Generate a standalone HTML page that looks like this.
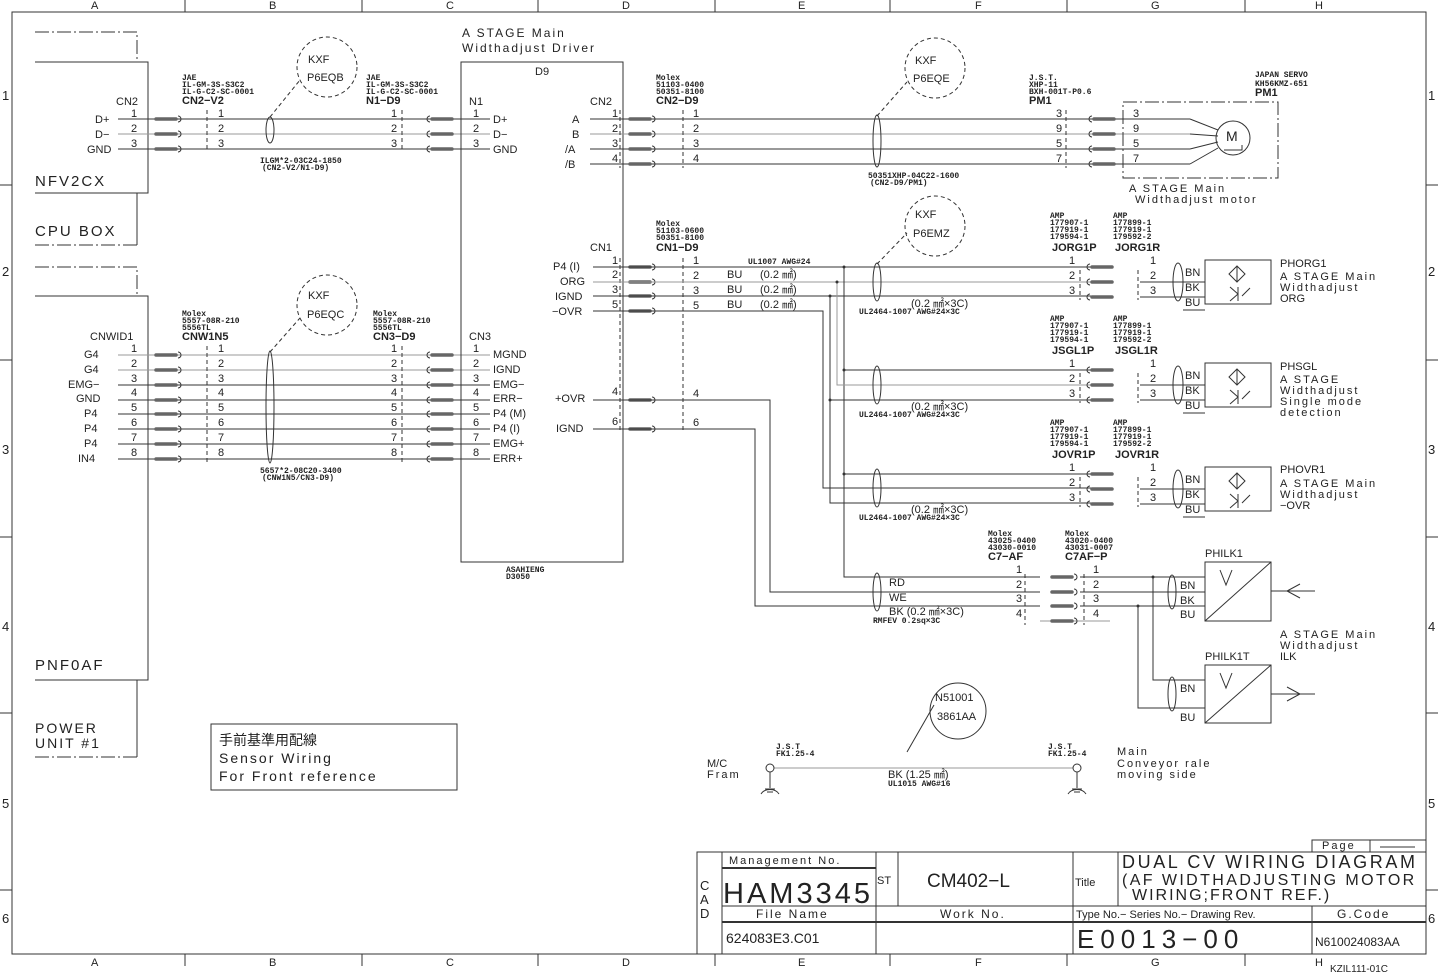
<!DOCTYPE html>
<html><head><meta charset="utf-8"><style>
html,body{margin:0;padding:0;background:#fff}
svg{display:block}
text{font-family:"Liberation Sans","Noto Sans CJK JP",sans-serif;fill:#222}
.t{font-size:11px}
.s{font-size:8px;font-weight:bold;font-family:"Liberation Mono",monospace}
.m{font-size:11px;font-weight:bold}
.w{letter-spacing:2px}
.ln{stroke:#333;stroke-width:1;fill:none}
.lg{stroke:#999;stroke-width:1;fill:none}
.dd{stroke:#333;stroke-width:1;stroke-dasharray:4,3;fill:none}
.dc{stroke:#333;stroke-width:1;stroke-dasharray:14,3,2,3;fill:none}
</style></head><body>
<svg width="1438" height="974" viewBox="0 0 1438 974" xmlns="http://www.w3.org/2000/svg">
<defs>
<g id="pr"><line x1="2" y1="0" x2="22" y2="0" stroke="#666" stroke-width="3.5" stroke-linecap="round"/><path d="M24,-3 A3,3 0 0 1 24,3" class="ln"/></g>
<g id="pl"><line x1="4" y1="0" x2="24" y2="0" stroke="#666" stroke-width="3.5" stroke-linecap="round"/><path d="M2,-3 A3,3 0 0 0 2,3" class="ln"/></g>
<g id="gnd"><circle cx="0" cy="0" r="4" class="ln"/><line x1="0" y1="4" x2="0" y2="20" class="ln"/><path d="M-9,26 A10,8 0 0 1 9,26" class="ln"/><line x1="-5" y1="21" x2="5" y2="21" class="ln"/><line x1="-3" y1="24" x2="3" y2="24" class="ln"/></g>
</defs>
<!-- frame -->
<rect x="12" y="12" width="1414" height="942" class="ln"/>
<g class="ln">
<line x1="185" y1="0" x2="185" y2="12"/><line x1="362" y1="0" x2="362" y2="12"/><line x1="538" y1="0" x2="538" y2="12"/><line x1="715" y1="0" x2="715" y2="12"/><line x1="890" y1="0" x2="890" y2="12"/><line x1="1067" y1="0" x2="1067" y2="12"/><line x1="1245" y1="0" x2="1245" y2="12"/>
<line x1="185" y1="954" x2="185" y2="966"/><line x1="362" y1="954" x2="362" y2="966"/><line x1="538" y1="954" x2="538" y2="966"/><line x1="715" y1="954" x2="715" y2="966"/><line x1="890" y1="954" x2="890" y2="966"/><line x1="1067" y1="954" x2="1067" y2="966"/><line x1="1245" y1="954" x2="1245" y2="966"/>
<line x1="0" y1="185" x2="12" y2="185"/><line x1="0" y1="360" x2="12" y2="360"/><line x1="0" y1="537" x2="12" y2="537"/><line x1="0" y1="713" x2="12" y2="713"/><line x1="0" y1="890" x2="12" y2="890"/>
<line x1="1426" y1="185" x2="1438" y2="185"/><line x1="1426" y1="360" x2="1438" y2="360"/><line x1="1426" y1="537" x2="1438" y2="537"/><line x1="1426" y1="713" x2="1438" y2="713"/><line x1="1426" y1="890" x2="1438" y2="890"/>
</g>
<g class="t">
<text x="91" y="9">A</text><text x="269" y="9">B</text><text x="446" y="9">C</text><text x="622" y="9">D</text><text x="798" y="9">E</text><text x="975" y="9">F</text><text x="1151" y="9">G</text><text x="1315" y="9">H</text>
<text x="91" y="966">A</text><text x="269" y="966">B</text><text x="446" y="966">C</text><text x="622" y="966">D</text><text x="798" y="966">E</text><text x="975" y="966">F</text><text x="1151" y="966">G</text><text x="1315" y="966">H</text>
<text x="2" y="100" font-size="13">1</text><text x="2" y="276" font-size="13">2</text><text x="2" y="454" font-size="13">3</text><text x="2" y="631" font-size="13">4</text><text x="2" y="808" font-size="13">5</text><text x="2" y="923" font-size="13">6</text>
<text x="1428" y="100" font-size="13">1</text><text x="1428" y="276" font-size="13">2</text><text x="1428" y="454" font-size="13">3</text><text x="1428" y="631" font-size="13">4</text><text x="1428" y="808" font-size="13">5</text><text x="1428" y="923" font-size="13">6</text>
<text x="1330" y="972" font-size="10">KZIL111-01C</text>
</g>

<!-- CPU BOX -->
<path d="M35,32 H137 V62" class="dc"/>
<path d="M35,62 H148 V193 H35" class="ln"/>
<path d="M137,193 V245" class="ln"/><path d="M35,245 H137" class="dc"/>
<text x="35" y="186" font-size="15" class="w">NFV2CX</text>
<text x="35" y="236" font-size="15" class="w">CPU BOX</text>
<!-- POWER UNIT -->
<path d="M35,267 H137 V296" class="dc"/>
<path d="M35,296 H148 V680 H35" class="ln"/>
<path d="M137,680 V757" class="ln"/><path d="M35,757 H137" class="dc"/>
<text x="35" y="670" font-size="15" class="w">PNF0AF</text>
<text x="35" y="733" font-size="14" class="w">POWER</text>
<text x="35" y="748" font-size="14" class="w">UNIT #1</text>

<!-- Top cable CN2-V2 -->
<g class="t">
<text x="116" y="105">CN2</text>
<text x="95" y="123">D+</text><text x="95" y="138">D−</text><text x="87" y="153">GND</text>
<text x="131" y="117">1</text><text x="131" y="132">2</text><text x="131" y="147">3</text>
<text x="218" y="117">1</text><text x="218" y="132">2</text><text x="218" y="147">3</text>
<text x="391" y="117">1</text><text x="391" y="132">2</text><text x="391" y="147">3</text>
<text x="473" y="117">1</text><text x="473" y="132">2</text><text x="473" y="147">3</text>
<text x="469" y="105">N1</text>
<text x="493" y="123">D+</text><text x="493" y="138">D−</text><text x="493" y="153">GND</text>
</g>
<line x1="118" y1="119" x2="490" y2="119" class="ln"/>
<line x1="118" y1="134" x2="490" y2="134" class="lg"/>
<line x1="118" y1="149" x2="490" y2="149" class="ln"/>
<use href="#pr" x="154" y="119"/><use href="#pr" x="154" y="134"/><use href="#pr" x="154" y="149"/>
<use href="#pl" x="428" y="119"/><use href="#pl" x="428" y="134"/><use href="#pl" x="428" y="149"/>
<line x1="207" y1="110" x2="207" y2="152" class="dd"/><line x1="402" y1="110" x2="402" y2="152" class="dd"/>
<ellipse cx="270" cy="130" rx="4" ry="13" class="ln"/>
<text x="182" y="80" class="s">JAE</text><text x="182" y="87" class="s" font-weight="normal">IL-GM-3S-S3C2</text><text x="182" y="94" class="s">IL-G-C2-SC-0001</text><text x="182" y="104" class="m">CN2−V2</text>
<text x="366" y="80" class="s">JAE</text><text x="366" y="87" class="s" font-weight="normal">IL-GM-3S-S3C2</text><text x="366" y="94" class="s">IL-G-C2-SC-0001</text><text x="366" y="104" class="m">N1−D9</text>
<text x="260" y="163" class="s">ILGM*2-03C24-1850</text><text x="262" y="170" class="s" font-weight="normal">(CN2-V2/N1-D9)</text>
<circle cx="327" cy="67" r="30" class="dd"/><text x="308" y="63" class="t">KXF</text><text x="307" y="81" class="t">P6EQB</text>
<line x1="270" y1="117" x2="300" y2="80" class="dd"/>

<!-- Lower cable CNWID1 -->
<g class="t">
<text x="90" y="340">CNWID1</text>
<text x="84" y="358">G4</text><text x="84" y="373">G4</text><text x="68" y="388">EMG−</text><text x="76" y="402">GND</text><text x="84" y="417">P4</text><text x="84" y="432">P4</text><text x="84" y="447">P4</text><text x="78" y="462">IN4</text>
<text x="131" y="352">1</text><text x="131" y="367">2</text><text x="131" y="382">3</text><text x="131" y="396">4</text><text x="131" y="411">5</text><text x="131" y="426">6</text><text x="131" y="441">7</text><text x="131" y="456">8</text>
<text x="218" y="352">1</text><text x="218" y="367">2</text><text x="218" y="382">3</text><text x="218" y="396">4</text><text x="218" y="411">5</text><text x="218" y="426">6</text><text x="218" y="441">7</text><text x="218" y="456">8</text>
<text x="391" y="352">1</text><text x="391" y="367">2</text><text x="391" y="382">3</text><text x="391" y="396">4</text><text x="391" y="411">5</text><text x="391" y="426">6</text><text x="391" y="441">7</text><text x="391" y="456">8</text>
<text x="473" y="352">1</text><text x="473" y="367">2</text><text x="473" y="382">3</text><text x="473" y="396">4</text><text x="473" y="411">5</text><text x="473" y="426">6</text><text x="473" y="441">7</text><text x="473" y="456">8</text>
<text x="469" y="340">CN3</text>
<text x="493" y="358">MGND</text><text x="493" y="373">IGND</text><text x="493" y="388">EMG−</text><text x="493" y="402">ERR−</text><text x="493" y="417">P4 (M)</text><text x="493" y="432">P4 (I)</text><text x="493" y="447">EMG+</text><text x="493" y="462">ERR+</text>
</g>
<g class="lg">
<line x1="118" y1="355" x2="490" y2="355"/><line x1="118" y1="370" x2="490" y2="370"/>
</g>
<g class="ln">
<line x1="118" y1="385" x2="490" y2="385"/><line x1="118" y1="400" x2="490" y2="400"/><line x1="118" y1="414" x2="490" y2="414"/><line x1="118" y1="429" x2="490" y2="429"/><line x1="118" y1="444" x2="490" y2="444"/><line x1="118" y1="459" x2="490" y2="459"/>
</g>
<use href="#pr" x="154" y="355"/><use href="#pr" x="154" y="370"/><use href="#pr" x="154" y="385"/><use href="#pr" x="154" y="400"/><use href="#pr" x="154" y="414"/><use href="#pr" x="154" y="429"/><use href="#pr" x="154" y="444"/><use href="#pr" x="154" y="459"/>
<use href="#pl" x="428" y="355"/><use href="#pl" x="428" y="370"/><use href="#pl" x="428" y="385"/><use href="#pl" x="428" y="400"/><use href="#pl" x="428" y="414"/><use href="#pl" x="428" y="429"/><use href="#pl" x="428" y="444"/><use href="#pl" x="428" y="459"/>
<line x1="207" y1="346" x2="207" y2="462" class="dd"/><line x1="402" y1="346" x2="402" y2="462" class="dd"/>
<ellipse cx="270" cy="407" rx="4" ry="56" class="ln"/>
<text x="182" y="316" class="s">Molex</text><text x="182" y="323" class="s" font-weight="normal">5557-08R-210</text><text x="182" y="330" class="s">5556TL</text><text x="182" y="340" class="m">CNW1N5</text>
<text x="373" y="316" class="s">Molex</text><text x="373" y="323" class="s" font-weight="normal">5557-08R-210</text><text x="373" y="330" class="s">5556TL</text><text x="373" y="340" class="m">CN3−D9</text>
<text x="260" y="473" class="s">5657*2-08C20-3400</text><text x="262" y="480" class="s" font-weight="normal">(CNW1N5/CN3-D9)</text>
<circle cx="327" cy="305" r="30" class="dd"/><text x="308" y="299" class="t">KXF</text><text x="307" y="318" class="t">P6EQC</text>
<line x1="270" y1="352" x2="300" y2="318" class="dd"/>

<!-- D9 box -->
<rect x="461" y="62" width="162" height="500" class="ln"/>
<text x="462" y="37" font-size="12" class="w">A STAGE Main</text>
<text x="462" y="52" font-size="12" class="w">Widthadjust Driver</text>
<text x="535" y="75" class="t">D9</text>
<text x="506" y="572" class="s" font-weight="normal">ASAHIENG</text><text x="506" y="579" class="s" font-weight="normal">D3050</text>

<!-- D9 CN2 to motor -->
<g class="t">
<text x="590" y="105">CN2</text>
<text x="572" y="123">A</text><text x="572" y="138">B</text><text x="565" y="153">/A</text><text x="565" y="168">/B</text>
<text x="612" y="117">1</text><text x="612" y="132">2</text><text x="612" y="147">3</text><text x="612" y="162">4</text>
<text x="693" y="117">1</text><text x="693" y="132">2</text><text x="693" y="147">3</text><text x="693" y="162">4</text>
<text x="1056" y="117">3</text><text x="1056" y="132">9</text><text x="1056" y="147">5</text><text x="1056" y="162">7</text>
<text x="1133" y="117">3</text><text x="1133" y="132">9</text><text x="1133" y="147">5</text><text x="1133" y="162">7</text>
</g>
<line x1="590" y1="119" x2="1190" y2="119" class="ln"/>
<line x1="590" y1="134" x2="1190" y2="134" class="lg"/>
<line x1="590" y1="149" x2="1190" y2="149" class="ln"/>
<line x1="590" y1="164" x2="1190" y2="164" class="ln"/>
<use href="#pr" x="628" y="119"/><use href="#pr" x="628" y="134"/><use href="#pr" x="628" y="149"/><use href="#pr" x="628" y="164"/>
<use href="#pl" x="1090" y="119"/><use href="#pl" x="1090" y="134"/><use href="#pl" x="1090" y="149"/><use href="#pl" x="1090" y="164"/>
<line x1="620" y1="110" x2="620" y2="168" class="dd"/><line x1="683" y1="110" x2="683" y2="168" class="dd"/><line x1="1066" y1="110" x2="1066" y2="168" class="dd"/>
<ellipse cx="877" cy="141" rx="4" ry="26" class="ln"/>
<circle cx="935" cy="68" r="30" class="dd"/><text x="915" y="64" class="t">KXF</text><text x="913" y="82" class="t">P6EQE</text>
<line x1="877" y1="116" x2="907" y2="82" class="dd"/>
<text x="656" y="80" class="s">Molex</text><text x="656" y="87" class="s" font-weight="normal">51103-0400</text><text x="656" y="94" class="s">50351-8100</text><text x="656" y="104" class="m">CN2−D9</text>
<text x="1029" y="80" class="s" font-weight="normal">J.S.T.</text><text x="1029" y="87" class="s" font-weight="normal">XHP-11</text><text x="1029" y="94" class="s">BXH-001T-P0.6</text><text x="1029" y="104" class="m">PM1</text>
<text x="868" y="178" class="s">50351XHP-04C22-1600</text><text x="870" y="185" class="s" font-weight="normal">(CN2-D9/PM1)</text>
<rect x="1123" y="102" width="155" height="76" class="dc"/>
<path d="M1190,119 L1218,130 M1190,134 L1218,136 M1190,149 L1218,142 M1190,164 L1218,148" class="ln"/>
<circle cx="1233" cy="138" r="17" class="ln"/><text x="1226" y="141" font-size="14">M</text><path d="M1224,150 H1242 V145" class="ln"/>
<text x="1255" y="77" class="s" font-weight="normal">JAPAN SERVO</text><text x="1255" y="86" class="s" font-weight="normal">KH56KMZ-651</text><text x="1255" y="96" class="m">PM1</text>
<text x="1129" y="192" font-size="11" class="w">A STAGE Main</text>
<text x="1135" y="203" font-size="11" class="w">Widthadjust motor</text>

<!-- CN1 -->
<g class="t">
<text x="590" y="251">CN1</text>
<text x="553" y="270">P4 (I)</text><text x="560" y="285">ORG</text><text x="555" y="300">IGND</text><text x="552" y="315">−OVR</text>
<text x="555" y="402">+OVR</text><text x="556" y="432">IGND</text>
<text x="612" y="264">1</text><text x="612" y="278">2</text><text x="612" y="293">3</text><text x="612" y="308">5</text><text x="612" y="395">4</text><text x="612" y="425">6</text>
<text x="693" y="264">1</text><text x="693" y="279">2</text><text x="693" y="294">3</text><text x="693" y="309">5</text><text x="693" y="397">4</text><text x="693" y="426">6</text>
<text x="727" y="278">BU</text><text x="727" y="293">BU</text><text x="727" y="308">BU</text>
<text x="760" y="278">(0.2 ㎟)</text><text x="760" y="293">(0.2 ㎟)</text><text x="760" y="308">(0.2 ㎟)</text>
</g>
<text x="748" y="264" class="s">UL1007 AWG#24</text>
<text x="656" y="226" class="s">Molex</text><text x="656" y="233" class="s" font-weight="normal">51103-0600</text><text x="656" y="240" class="s">50351-8100</text><text x="656" y="251" class="m">CN1−D9</text>
<line x1="620" y1="258" x2="620" y2="432" class="dd"/><line x1="683" y1="258" x2="683" y2="432" class="dd"/>
<use href="#pr" x="628" y="267"/><use href="#pr" x="628" y="282"/><use href="#pr" x="628" y="296"/><use href="#pr" x="628" y="311"/><use href="#pr" x="628" y="400"/><use href="#pr" x="628" y="429"/>
<g class="ln">
<path d="M593,267 H1092"/><path d="M593,282 H1092" stroke="#999"/><path d="M593,296 H1092"/><path d="M593,311 H823 V488 H1092"/>
<path d="M593,400 H770 V592 H1040"/><path d="M593,429 H755 V606 H1040"/>
<path d="M844,267 V577 H1040"/><path d="M844,370 H1092"/><path d="M844,474 H1092"/>
<path d="M837,282 V385 H1092" stroke="#999"/>
<path d="M830,296 V503 H1092"/><path d="M830,400 H1092"/>
</g>
<g fill="#333"><circle cx="844" cy="267" r="1.5"/><circle cx="837" cy="282" r="1.5"/><circle cx="830" cy="296" r="1.5"/><circle cx="844" cy="370" r="1.5"/><circle cx="830" cy="400" r="1.5"/><circle cx="844" cy="474" r="1.5"/></g>
<ellipse cx="877" cy="282" rx="4" ry="19" class="ln"/>
<ellipse cx="877" cy="385" rx="4" ry="19" class="ln"/>
<ellipse cx="877" cy="488" rx="4" ry="19" class="ln"/>
<ellipse cx="877" cy="592" rx="4" ry="19" class="ln"/>
<circle cx="935" cy="226" r="30" class="dd"/><text x="915" y="218" class="t">KXF</text><text x="913" y="237" class="t">P6EMZ</text>
<line x1="877" y1="264" x2="907" y2="233" class="dd"/>
<text x="911" y="307" class="t">(0.2 ㎟×3C)</text><text x="859" y="314" class="s" font-weight="normal">UL2464-1007 AWG#24×3C</text>
<text x="911" y="410" class="t">(0.2 ㎟×3C)</text><text x="859" y="417" class="s" font-weight="normal">UL2464-1007 AWG#24×3C</text>
<text x="911" y="513" class="t">(0.2 ㎟×3C)</text><text x="859" y="520" class="s" font-weight="normal">UL2464-1007 AWG#24×3C</text>
<g class="t"><text x="889" y="586">RD</text><text x="889" y="601">WE</text><text x="889" y="615">BK (0.2 ㎟×3C)</text></g>
<text x="873" y="623" class="s" font-weight="normal">RMFEV 0.2sq×3C</text>

<!-- sensor blocks -->
<g id="sb1">
<text x="1050" y="218" class="s">AMP</text><text x="1050" y="225" class="s" font-weight="normal">177907-1</text><text x="1050" y="232" class="s" font-weight="normal">177919-1</text><text x="1050" y="239" class="s">179594-1</text>
<text x="1113" y="218" class="s">AMP</text><text x="1113" y="225" class="s" font-weight="normal">177899-1</text><text x="1113" y="232" class="s" font-weight="normal">177919-1</text><text x="1113" y="239" class="s">179592-2</text>
<g class="t"><text x="1069" y="264">1</text><text x="1069" y="279">2</text><text x="1069" y="294">3</text><text x="1150" y="264">1</text><text x="1150" y="279">2</text><text x="1150" y="294">3</text>
<text x="1185" y="276">BN</text><text x="1185" y="291">BK</text><text x="1185" y="306">BU</text></g>
<line x1="1080" y1="270" x2="1080" y2="300" class="dd"/><line x1="1138" y1="270" x2="1138" y2="300" class="dd"/>
<use href="#pl" x="1088" y="267"/><use href="#pl" x="1088" y="282"/><use href="#pl" x="1088" y="297"/>
<path d="M1140,282 H1205 M1140,297 H1205 M1183,310 H1205" class="ln"/>
<ellipse cx="1178" cy="282" rx="5" ry="19" class="ln"/>
<rect x="1205" y="260" width="66" height="44" class="ln"/>
<path d="M1237,266 L1245,274 L1237,282 L1229,274 Z M1237,266 V282" class="ln"/>
<path d="M1230,287 L1238,294 L1230,301 M1238,287 V301 M1242,296 L1250,288" class="ln"/>
</g>
<text x="1052" y="251" class="m">JORG1P</text><text x="1115" y="251" class="m">JORG1R</text>
<text x="1280" y="267" class="t">PHORG1</text><text x="1280" y="280" font-size="11" class="w">A STAGE Main</text><text x="1280" y="291" font-size="11" class="w">Widthadjust</text><text x="1280" y="302" class="t">ORG</text>
<use href="#sb1" y="103"/>
<text x="1052" y="354" class="m">JSGL1P</text><text x="1115" y="354" class="m">JSGL1R</text>
<text x="1280" y="370" class="t">PHSGL</text><text x="1280" y="383" font-size="11" class="w">A STAGE</text><text x="1280" y="394" font-size="11" class="w">Widthadjust</text><text x="1280" y="405" font-size="11" class="w">Single mode</text><text x="1280" y="416" font-size="11" class="w">detection</text>
<use href="#sb1" y="207"/>
<text x="1052" y="458" class="m">JOVR1P</text><text x="1115" y="458" class="m">JOVR1R</text>
<text x="1280" y="473" class="t">PHOVR1</text><text x="1280" y="487" font-size="11" class="w">A STAGE Main</text><text x="1280" y="498" font-size="11" class="w">Widthadjust</text><text x="1280" y="509" class="t">−OVR</text>

<!-- C7-AF -->
<text x="988" y="536" class="s">Molex</text><text x="988" y="543" class="s" font-weight="normal">43025-0400</text><text x="988" y="550" class="s">43030-0010</text><text x="988" y="560" class="m">C7−AF</text>
<text x="1065" y="536" class="s">Molex</text><text x="1065" y="543" class="s" font-weight="normal">43020-0400</text><text x="1065" y="550" class="s">43031-0007</text><text x="1065" y="560" class="m">C7AF−P</text>
<g class="t"><text x="1016" y="573">1</text><text x="1016" y="588">2</text><text x="1016" y="602">3</text><text x="1016" y="617">4</text>
<text x="1093" y="573">1</text><text x="1093" y="588">2</text><text x="1093" y="602">3</text><text x="1093" y="617">4</text>
<text x="1180" y="589">BN</text><text x="1180" y="604">BK</text><text x="1180" y="618">BU</text>
<text x="1180" y="692">BN</text><text x="1180" y="721">BU</text>
<text x="1205" y="557">PHILK1</text><text x="1205" y="660">PHILK1T</text></g>
<line x1="1025" y1="574" x2="1025" y2="625" class="dd"/><line x1="1084" y1="574" x2="1084" y2="625" class="dd"/>
<line x1="1040" y1="621" x2="1110" y2="621" class="lg"/>
<use href="#pr" x="1050" y="577"/><use href="#pr" x="1050" y="592"/><use href="#pr" x="1050" y="606"/><use href="#pr" x="1050" y="621"/>
<g class="ln">
<path d="M1080,577 H1205"/><path d="M1080,592 H1205"/><path d="M1080,606 H1205"/>
<path d="M1153,577 V680 H1205"/><path d="M1138,606 V708 H1205"/>
<ellipse cx="1172" cy="592" rx="4" ry="17"/><ellipse cx="1172" cy="694" rx="4" ry="17"/>
<rect x="1205" y="562" width="66" height="59"/><path d="M1205,621 L1271,562"/><path d="M1220,570 L1226,585 L1232,570"/>
<rect x="1205" y="665" width="66" height="58"/><path d="M1205,723 L1271,665"/><path d="M1220,673 L1226,688 L1232,673"/>
<path d="M1271,591 H1315 M1300,584 L1287,591 L1300,598"/>
<path d="M1271,694 H1315 M1287,687 L1300,694 L1287,701"/>
</g>
<circle cx="1153" cy="577" r="1.5" fill="#333"/><circle cx="1138" cy="606" r="1.5" fill="#333"/>
<text x="1280" y="638" font-size="11" class="w">A STAGE Main</text><text x="1280" y="649" font-size="11" class="w">Widthadjust</text><text x="1280" y="660" class="t">ILK</text>

<!-- sensor wiring box -->
<rect x="211" y="724" width="246" height="66" class="ln" stroke="#888"/>
<text x="219" y="745" font-size="14">手前基準用配線</text>
<text x="219" y="763" font-size="14" class="w">Sensor Wiring</text>
<text x="219" y="781" font-size="14" class="w">For Front reference</text>

<!-- ground wire -->
<line x1="774" y1="768" x2="1073" y2="768" class="lg"/>
<use href="#gnd" x="770" y="768"/><use href="#gnd" x="1077" y="768"/>
<text x="707" y="767" class="t">M/C</text><text x="707" y="778" font-size="11" class="w">Fram</text>
<text x="776" y="749" class="s" font-weight="normal">J.S.T</text><text x="776" y="756" class="s" font-weight="normal">FK1.25-4</text>
<text x="1048" y="749" class="s" font-weight="normal">J.S.T</text><text x="1048" y="756" class="s" font-weight="normal">FK1.25-4</text>
<text x="1117" y="755" font-size="11" class="w">Main</text><text x="1117" y="767" font-size="11" class="w">Conveyor rale</text><text x="1117" y="778" font-size="11" class="w">moving side</text>
<text x="888" y="778" class="t">BK  (1.25 ㎟)</text><text x="888" y="786" class="s" font-weight="normal">UL1015 AWG#16</text>
<circle cx="958" cy="711" r="28" class="ln"/><text x="935" y="701" class="t">N51001</text><text x="937" y="720" class="t">3861AA</text>
<line x1="934" y1="705" x2="907" y2="752" class="ln"/>

<!-- title block -->
<g class="ln">
<rect x="697" y="852" width="729" height="102"/>
<rect x="1312" y="840" width="114" height="12"/><line x1="1370" y1="840" x2="1370" y2="852"/><line x1="1380" y1="847" x2="1415" y2="847"/>
<line x1="722" y1="852" x2="722" y2="954"/>
<line x1="722" y1="868" x2="876" y2="868" stroke-width="2"/>
<line x1="876" y1="852" x2="876" y2="954"/><line x1="898" y1="852" x2="898" y2="906"/>
<line x1="1073" y1="852" x2="1073" y2="954"/><line x1="1118" y1="852" x2="1118" y2="906"/>
<line x1="722" y1="906" x2="1426" y2="906"/>
<line x1="722" y1="922" x2="1426" y2="922" stroke-width="2"/>
<line x1="1312" y1="906" x2="1312" y2="954"/>
</g>
<text x="1322" y="849" font-size="11" class="w">Page</text>
<text x="700" y="890" font-size="13">C</text><text x="700" y="904" font-size="13">A</text><text x="700" y="918" font-size="13">D</text>
<text x="729" y="864" font-size="11" class="w">Management No.</text>
<text x="723" y="903" font-size="29" font-weight="300" letter-spacing="3">HAM3345</text>
<text x="877" y="884" font-size="11">ST</text>
<text x="927" y="887" font-size="19">CM402−L</text>
<text x="1075" y="886" font-size="11">Title</text>
<text x="1122" y="868" font-size="18" letter-spacing="2.6">DUAL CV WIRING DIAGRAM</text>
<text x="1122" y="885" font-size="16" letter-spacing="2.4">(AF WIDTHADJUSTING MOTOR</text>
<text x="1132" y="900" font-size="16" letter-spacing="2">WIRING;FRONT REF.)</text>
<text x="756" y="918" font-size="12" class="w">File Name</text>
<text x="940" y="918" font-size="12" class="w">Work No.</text>
<text x="1076" y="918" font-size="11">Type No.− Series No.− Drawing Rev.</text>
<text x="1337" y="918" font-size="12" class="w">G.Code</text>
<text x="726" y="943" font-size="14">624083E3.C01</text>
<text x="1077" y="948" font-size="26" letter-spacing="6">E0013−00</text>
<text x="1315" y="946" font-size="12">N610024083AA</text>
</svg>
</body></html>
